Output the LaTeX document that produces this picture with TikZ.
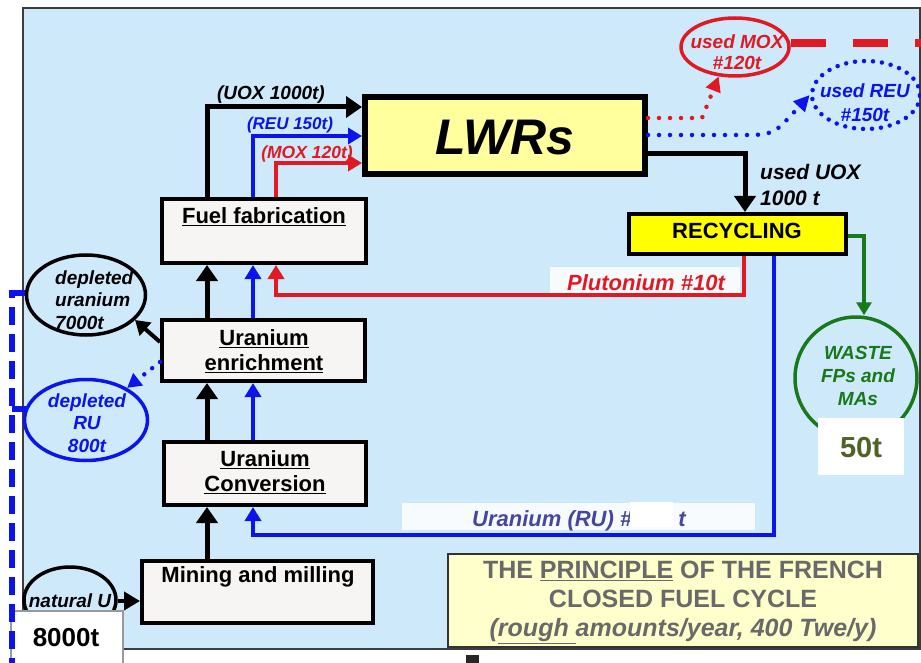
\documentclass[tikz,border=0pt]{standalone}
\usepackage{fontspec}
\setmainfont{Liberation Sans}
\usetikzlibrary{arrows.meta,shapes.geometric}
\newcommand\myfs[2]{\fontsize{#1}{#2}\selectfont}
\definecolor{panelbg}{RGB}{205,233,250}
\definecolor{boxfill}{RGB}{247,245,243}
\definecolor{lwrfill}{RGB}{255,255,158}
\definecolor{recfill}{RGB}{255,255,0}
\definecolor{titlefill}{RGB}{255,255,204}
\definecolor{fred}{RGB}{225,25,35}
\definecolor{fblue}{RGB}{10,20,235}
\definecolor{fgreen}{RGB}{25,120,25}
\definecolor{olivetxt}{RGB}{79,98,40}
\definecolor{rublue}{RGB}{70,70,160}
\definecolor{titlegray}{RGB}{105,105,105}
\definecolor{framegray}{RGB}{60,60,60}
\begin{document}
\begin{tikzpicture}[x=1pt,y=-1pt,
  procbox/.style={draw=black, line width=4pt, fill=boxfill, inner sep=0pt},
  arrk/.style={draw=black, line width=5pt, -{Triangle[width=21pt,length=16pt]}},
  arrb/.style={draw=fblue, line width=4pt, -{Triangle[width=16pt,length=14pt]}},
  arrr/.style={draw=fred, line width=4pt, -{Triangle[width=16pt,length=14pt]}},
  arrg/.style={draw=fgreen, line width=3.5pt, -{Triangle[width=15pt,length=13pt]}},
  dotr/.style={draw=fred, line width=4.5pt, line cap=round, dash pattern=on 0pt off 11pt, -{Triangle[width=15pt,length=15pt]}},
  dotb/.style={draw=fblue, line width=4.5pt, line cap=round, dash pattern=on 0pt off 11pt, -{Triangle[width=15pt,length=16pt]}},
  lbl/.style={font=\bfseries\itshape\myfs{17}{20}, inner sep=0pt},
  boxtxt/.style={font=\bfseries\myfs{22}{25.5}, align=center, inner sep=0pt},
  elltxt/.style={font=\bfseries\itshape\myfs{19}{22.5}, align=center, inner sep=0pt},
]
\useasboundingbox (0,0) rectangle (921,663);
\fill[white] (0,0) rectangle (921,663);
% panel
\fill[panelbg] (23,8) rectangle (920,649);
\draw[framegray, line width=2pt] (23,8) rectangle (920,649);
\fill[black!85] (466,655) rectangle (479,663);

% x / y guide coordinates
\coordinate (xk) at (207,0);
\coordinate (xb) at (253,0);
\coordinate (xm) at (276,0);
\coordinate (xp) at (744,0);
\coordinate (xu) at (774,0);
\coordinate (xuu) at (745,0);
\coordinate (xg) at (864,0);
\coordinate (yU) at (0,107);
\coordinate (yR) at (0,136);
\coordinate (yM) at (0,163);
\coordinate (yP) at (0,295);
\coordinate (yRU) at (0,535);
\coordinate (yUU) at (0,154);
\coordinate (yG) at (0,236);
\coordinate (yD1) at (0,118);
\coordinate (yD2) at (0,135);

% process boxes
\node[procbox, line width=6pt, fill=lwrfill, minimum width=280, minimum height=77] (lwr) at (505,135.5) {};
\node[font=\bfseries\itshape\myfs{50}{50}, inner sep=0pt] (lwrt) at (505,138) {LWRs};
\node[procbox, minimum width=204, minimum height=64] (fab) at (264,231) {};
\node[boxtxt] (fabt) at (264,217) {\underline{Fuel fabrication}};
\node[procbox, minimum width=203, minimum height=61] (enr) at (263.5,350.5) {};
\node[boxtxt] (enrt) at (264,351) {\underline{Uranium}\\\underline{enrichment}};
\node[procbox, minimum width=202, minimum height=63] (conv) at (265,473.5) {};
\node[boxtxt] (convt) at (265,472) {\underline{Uranium}\\\underline{Conversion}};
\node[procbox, minimum width=231, minimum height=62] (mine) at (257.5,592) {};
\node[boxtxt] (minet) at (258,577) {Mining and milling};
\node[procbox, fill=recfill, minimum width=217, minimum height=40] (rec) at (737.5,234) {};
\node[boxtxt] (rect) at (737,231) {RECYCLING};

% ellipses
\node[ellipse, draw=black, line width=3.5pt, minimum width=119, minimum height=80] (depU) at (86,295) {};
\node[elltxt, align=left, anchor=west] (depUt) at (55,300) {depleted\\uranium\\7000t};
\node[ellipse, draw=fblue, line width=3.5pt, minimum width=123, minimum height=81] (depRU) at (86,420) {};
\node[elltxt, text=fblue] (depRUt) at (87,423) {depleted\\RU\\800t};
\node[ellipse, draw=black, line width=3.5pt, minimum width=92, minimum height=66] (natU) at (70,600) {};
\node[lbl, font=\bfseries\itshape\myfs{19}{20}] (natUt) at (70,601) {natural U};
\node[ellipse, draw=fred, line width=3.5pt, minimum width=108, minimum height=58] (mox) at (735,47) {};
\node[elltxt, text=fred, font=\bfseries\itshape\myfs{19}{21}] (moxt) at (737,52) {used MOX\\\#120t};
\node[ellipse, draw=fblue, line width=4.5pt, line cap=round, dash pattern=on 0pt off 9pt, minimum width=108, minimum height=68] (reu) at (866,95) {};
\node[elltxt, text=fblue, font=\bfseries\itshape\myfs{19}{24}] (reut) at (865,103) {used REU\\\#150t};
\node[circle, draw=fgreen, line width=3.5pt, minimum size=122] (waste) at (856,378) {};
\node[elltxt, text=fgreen, font=\bfseries\itshape\myfs{19}{23}] (wastet) at (858,376) {WASTE\\FPs and\\MAs};

% white tag boxes
\node[fill=white, minimum width=86, minimum height=57, inner sep=0pt] (w50) at (861,446.5) {};
\node[font=\bfseries\myfs{29}{29}, text=olivetxt, inner sep=0pt] (w50t) at (861,448) {50t};
\node[fill=white, draw=black!40, line width=1.5pt, minimum width=112, minimum height=60, inner sep=0pt] (w8) at (67,641) {};
\node[font=\bfseries\myfs{26}{26}, inner sep=0pt] (w8t) at (66,638) {8000t};

% title box
\node[fill=titlefill, draw=black!80, line width=2.5pt, minimum width=470, minimum height=93, inner sep=0pt] (title) at (683,600.5) {};
\node[font=\bfseries\myfs{25}{29}, text=titlegray, align=center, inner sep=0pt] (titlet) at (683,602) {THE \underline{PRINCIPLE} OF THE FRENCH\\CLOSED FUEL CYCLE\\{\itshape(\underline{rough }amounts/year, 400 Twe/y)}};

% label backgrounds
\fill[white, opacity=0.85] (550,267) rectangle (740,293);
\fill[white, opacity=0.85] (402,503) rectangle (755,530);

% fuel flows into LWRs
\draw[arrk] (xk |- fab.north) |- (lwr.west |- yU);
\draw[arrb] (xb |- fab.north) |- (lwr.west |- yR);
\draw[arrr] (xm |- fab.north) |- (lwr.west |- yM);
\node[lbl, font=\bfseries\itshape\myfs{19}{20}] (uoxl) at (271,95) {(UOX 1000t)};
\node[lbl, text=fblue] (reul) at (290,125) {(REU 150t)};
\node[lbl, text=fred, font=\bfseries\itshape\myfs{17.5}{20}] (moxl) at (307,154) {(MOX 120t)};

% vertical chain
\draw[arrk] (xk |- mine.north) -- (xk |- conv.south);
\draw[arrk] (xk |- conv.north) -- (xk |- enr.south);
\draw[arrb] (xb |- conv.north) -- (xb |- enr.south);
\draw[arrk] (xk |- enr.north) -- (xk |- fab.south);
\draw[arrb] (xb |- enr.north) -- (xb |- fab.south);

% side products of enrichment
\draw[black, line width=4pt, -{Triangle[width=17pt,length=14pt]}] (enr.west |- 0,342) -- (depU.333);
\draw[fblue, line width=4.5pt, line cap=round, dash pattern=on 0pt off 10pt, -{Triangle[width=15pt,length=14pt]}] (enr.west |- 0,362) -- (depRU.38);
\draw[black, line width=4pt, -{Triangle[width=18pt,length=16pt]}] (natU.east |- 0,601) -- (mine.west |- 0,601);

% LWR outputs
\draw[arrk] (lwr.east |- yUU) -| (xuu |- rec.north);
\node[font=\bfseries\itshape\myfs{21}{26}, align=left, anchor=west, inner sep=0pt] (uuoxl) at (760,185) {used UOX\\1000 t};
\draw[dotr] (lwr.east |- yD1) -- (702,118) -- (mox.241);
\draw[dotb] (lwr.east |- yD2) -- (755,135) .. controls (775,133) .. (reu.west);
\draw[fred, line width=8pt, dash pattern=on 35pt off 27pt] (mox.east |- 0,43) -- (921,43);

% recycling outputs
\draw[arrr] (xp |- rec.south) |- (xm |- yP) -- (xm |- fab.south);
\node[font=\bfseries\itshape\myfs{22}{22}, text=fred, inner sep=0pt] (plul) at (646,283) {Plutonium \#10t};
\draw[arrb] (xu |- rec.south) |- (xb |- yRU) -- (xb |- conv.south);
\node[font=\bfseries\itshape\myfs{22}{22}, text=rublue, inner sep=0pt, anchor=west] (rul) at (472,521) {Uranium (RU) \#\hspace{46pt}t};
\fill[white] (630,502) rectangle (673,527);
\draw[arrg] (rec.east |- yG) -| (xg |- waste.north);

% blue dashed bracket at left
\draw[fblue, line width=6pt, dash pattern=on 18pt off 9pt] (depU.west |- 0,293) -- (12,293) -- (12,663);
\draw[fblue, line width=6pt] (12,409) -- (26,409);
\end{tikzpicture}
\end{document}
